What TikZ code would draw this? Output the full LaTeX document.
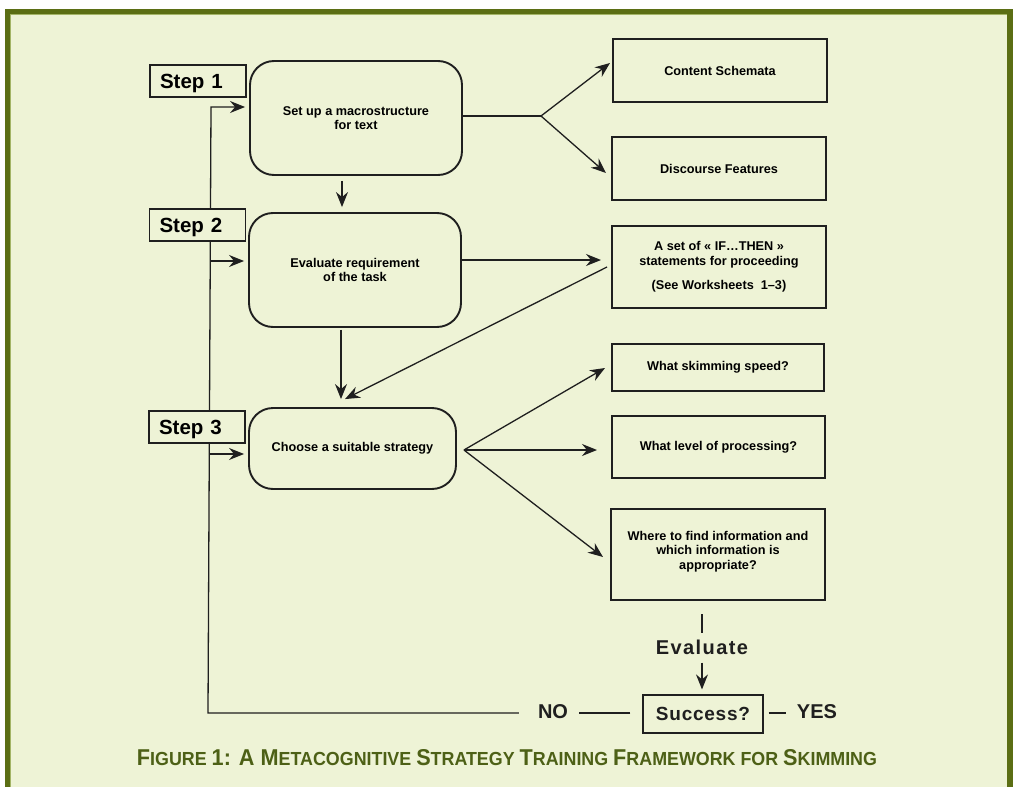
\documentclass[tikz,border=0pt]{standalone}
\usepackage{fontspec}
\setmainfont{Liberation Sans}
\usepackage{graphicx}
\usetikzlibrary{arrows.meta,calc}
\definecolor{frameg}{HTML}{5B6E14}
\definecolor{framel}{HTML}{A3B466}
\definecolor{bgc}{HTML}{EEF3D6}
\definecolor{capg}{HTML}{4D6016}
\definecolor{ink}{HTML}{1F1F1F}
\pgfdeclarelayer{framelayer}
\pgfdeclarelayer{edges}
\pgfsetlayers{framelayer,edges,main}
\newcommand\boxfont{\bfseries\fontsize{12.7}{14.5}\selectfont}
\newcommand\capL[1]{{\fontsize{20}{20}\selectfont #1}}
\begin{document}
\begin{tikzpicture}[x=1pt,y=-1pt,
  rbox/.style={draw=ink, line width=1.9pt, rounded corners=24pt, fill=bgc, align=center, font=\boxfont, inner sep=0pt},
  qbox/.style={draw=ink, line width=2pt, fill=bgc, align=center, font=\boxfont, inner sep=0pt},
  stepbox/.style={draw=ink, line width=1.2pt, fill=bgc, font=\bfseries\fontsize{20.5}{22}\selectfont,
     inner xsep=10pt, inner ysep=0pt, text width=76pt, align=left, minimum height=32pt, text height=15pt, text depth=0pt},
  bigtext/.style={font=\bfseries\fontsize{20}{22}\selectfont, inner sep=0pt, text=ink},
  conn/.style={draw=ink, line width=1.3pt},
  arr/.style={conn, -{Stealth[length=15pt,width=12pt,inset=5pt]}},
]
\useasboundingbox (0,0) rectangle (1013,787);
\begin{pgfonlayer}{framelayer}
  \fill[frameg] (5,9) rectangle (1013,787);
  \fill[bgc] (10,14) rectangle (1007,787);
  \draw[framel, line width=1pt] (10.5,787) -- (10.5,14.5) -- (1006.5,14.5);
\end{pgfonlayer}

% step labels
\node[stepbox] (s1) at (198,81) {Step 1};
\node[stepbox] (s2) at (197.5,225) {Step 2};
\node[stepbox] (s3) at (197,427) {Step 3};

% main rounded boxes
\node[rbox, minimum width=212pt, minimum height=114pt] (b1) at (356,118) {Set up a macrostructure\\for text};
\node[rbox, minimum width=212pt, minimum height=114pt] (b2) at (355,270) {Evaluate requirement\\of the task};
\node[rbox, minimum width=207pt, minimum height=81pt] (b3) at (352.5,448.5) {Choose a suitable strategy};

% right boxes
\node[qbox, minimum width=214pt, minimum height=63pt] (cs) at (720,70.5) {Content Schemata};
\node[qbox, minimum width=214pt, minimum height=63pt] (df) at (719,168.5) {Discourse Features};
\node[qbox, minimum width=214pt, minimum height=82pt] (it) at (719,267) {A set of « IF…THEN »\\statements for proceeding\\[10pt](See Worksheets\ \ 1–3)};
\node[qbox, minimum width=212pt, minimum height=47pt] (ws) at (718,367.5) {What skimming speed?};
\node[qbox, minimum width=213pt, minimum height=62pt] (wl) at (718.5,447) {What level of processing?};
\node[qbox, minimum width=214pt, minimum height=91pt, text depth=9pt] (wh) at (718,554.5) {Where to find information and\\which information is\\appropriate?};

% evaluation
\node[bigtext, font=\bfseries\fontsize{20}{22}\selectfont\addfontfeature{LetterSpace=7}] (ev) at (702,647) {Evaluate};
\node[draw=ink, line width=1.2pt, fill=bgc, minimum width=120pt, minimum height=38pt, inner sep=0pt,
      font=\bfseries\fontsize{19}{22}\selectfont\addfontfeature{LetterSpace=4}, text=ink] (suc) at (703,714) {Success?};
\node[bigtext] (no) at (553,712) {NO};
\node[bigtext] (yes) at (817,712) {YES};

% caption
\node[anchor=base, inner sep=0pt, text=capg] (cap) at (507,765)
  {\resizebox{740pt}{16pt}{\bfseries\fontsize{16.5}{20}\selectfont
   \capL{F}IGURE \capL{1: A M}ETACOGNITIVE \capL{S}TRATEGY \capL{T}RAINING \capL{F}RAMEWORK FOR \capL{S}KIMMING}};

\coordinate (cb) at (208,713);
\coordinate (ct) at (211,107);
\coordinate (a2) at (211,261);
\coordinate (a3) at (210,454);
\coordinate (f1) at (541,116);
\coordinate (f2) at ($(b3.east)+(7,1.5)$);

\begin{pgfonlayer}{edges}
  % feedback loop and step arrows
  \draw[arr] ($(no.west)+(-19,1)$) -- (cb) -- (ct) -- ($(b1.west |- ct)+(-4,0)$);
  \draw[arr] (a2) -- ($(b2.west |- a2)+(-4,0)$);
  \draw[arr] (a3) -- ($(b3.west |- a3)+(-4,0)$);
  % vertical flow
  \draw[arr] ($(b1.south)+(-14,5)$) -- ($(b2.north)+(-13,-5)$);
  \draw[arr] ($(b2.south)+(-14,2)$) -- ($(b3.north)+(-11.5,-8)$);
  % fork 1
  \draw[conn] (b1.east |- f1) -- (f1);
  \draw[arr] (f1) -- ($(cs.west)+(-2,-7.5)$);
  \draw[arr] (f1) -- ($(df.west)+(-5,4.5)$);
  % step 2 to if-then and back
  \draw[arr] ($(b2.east)+(0,-10)$) -- ($(it.west)+(-10,-7)$);
  \draw[arr] ($(it.west)+(-4,0)$) -- ($(b3.north)+(-7.5,-8)$);
  % fork 2
  \draw[arr] (f2) -- ($(ws.west)+(-6,0.5)$);
  \draw[arr] (f2) -- ($(wl.west)+(-14,3)$);
  \draw[arr] (f2) -- ($(wh.west)+(-7,2.5)$);
  % evaluate
  \draw[conn] ($(wh.south)+(-16,13)$) -- ($(wh.south)+(-16,32)$);
  \draw[arr] ($(ev.south)+(0,8)$) -- ($(suc.north)+(-1,-5)$);
  \draw[conn] ($(suc.west)+(-12,-1)$) -- ($(no.east)+(11,1)$);
  \draw[conn] ($(suc.east)+(5,-1)$) -- ($(yes.west)+(-11,1)$);
\end{pgfonlayer}
\end{tikzpicture}
\end{document}
